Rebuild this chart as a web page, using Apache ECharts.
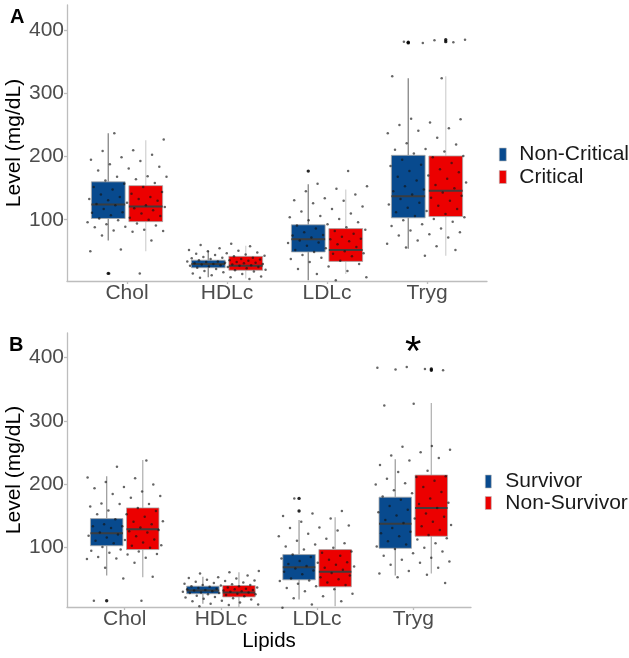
<!DOCTYPE html>
<html><head><meta charset="utf-8">
<script src="https://cdn.jsdelivr.net/npm/echarts@6/dist/echarts.min.js"></script>
<style>html,body{margin:0;padding:0;background:#fff}#c{width:629px;height:658px}</style>
</head><body><div id="c"></div>
<script>
// ---------- DATA ----------
const categories = ['Chol', 'HDLc', 'LDLc', 'Tryg'];
const yTickValues = [100, 200, 300, 400];
const groupsA = ['Non-Critical', 'Critical'];
const groupsB = ['Survivor', 'Non-Survivor'];
// box stats per category: [lower whisker, Q1, median, Q3, upper whisker]
const boxNonCritical = [[67, 102, 124, 160, 237], [9, 24, 30, 36, 51], [4, 49, 69, 92, 156], [54, 103, 137, 202, 324]];
const boxCritical    = [[50, 97, 121, 154, 226], [7, 20, 27, 42, 59], [14, 34, 52, 86, 148], [43, 105, 146, 201, 327]];
const boxSurvivor    = [[55, 102, 122, 145, 212], [10, 26, 31, 38, 53], [17, 48, 68, 88, 143], [55, 98, 137, 179, 239]];
const boxNonSurvivor = [[52, 96, 128, 162, 238], [5, 21, 28, 39, 60], [6, 37, 61, 96, 147], [58, 117, 162, 214, 328]];
// outliers: [category, value]
const outNonCritical = [['Chol', 15], ['LDLc', 177], ['Tryg', 380], ['Tryg', 381]];
const outCritical    = [['Tryg', 382], ['Tryg', 385]];
const outSurvivor    = [['Chol', 15], ['LDLc', 177], ['LDLc', 157]];
const outNonSurvivor = [['Tryg', 380], ['Tryg', 382]];
// individual measurements (jittered points), same patients in both panels
const cholPoints = [237,227,210,209,203,199,195,193,188,184,181,178,169,168,168,164,162,158,157,152,152,148,144,141,140,136,136,133,133,131,130,127,125,123,123,120,118,117,115,112,111,110,107,106,103,102,100,99,96,94,93,91,89,88,84,83,82,81,75,67,53,50,15,15];
const hdlPoints = [62,60,58,55,52,51,50,48,47,46,45,44,43,42,41,40,40,39,38,38,37,36,36,35,34,34,33,33,32,32,31,31,30,30,29,29,28,28,27,27,26,25,25,24,23,22,21,20,19,18,17,15,14,12,10,9,8,6];
const ldlPoints = [177,157,153,149,145,140,134,131,130,126,121,117,113,110,106,104,101,99,96,93,91,88,86,84,82,80,78,76,75,73,72,70,69,67,66,64,63,61,59,57,55,52,50,49,47,46,44,42,40,38,35,33,30,26,22,19,14,9,4];
const trygPoints = [385,384,382,381,380,327,324,260,259,254,250,245,241,237,230,221,219,212,211,208,205,201,199,195,190,187,185,180,177,175,170,168,165,162,159,155,153,150,148,145,143,140,138,135,133,130,127,124,122,119,117,114,112,109,106,104,101,99,97,93,90,86,83,80,77,75,72,67,62,58,56,52,43];
const significance = [{ category: 'Tryg', label: '*' }];

// ---------- STYLE / BUILD ----------
const BLUE = '#084a8e', RED = '#ec0000';
const DODGE = 0.1875, BOXW = 0.3375, JIT = 0.4;
const FONT = 'Liberation Sans, Arial';
const pointSets = [cholPoints, hdlPoints, ldlPoints, trygPoints];
const catIdx = c => categories.indexOf(c) + 1;

function boxData(stats) { return stats.map((s, i) => [i + 1].concat(s)); }
function outData(list) { return list.map(o => [catIdx(o[0]), o[1]]); }
function pointData() {
  const d = [];
  pointSets.forEach((arr, ci) => arr.forEach((v, k) => d.push([ci + 1, v, k])));
  return d;
}

function boxRender(dodge, whisker) {
  return function (params, api) {
    const x = api.value(0) + dodge;
    const w = api.size([BOXW, 0])[0];
    const lo = api.coord([x, api.value(1)]), q1 = api.coord([x, api.value(2)]),
          md = api.coord([x, api.value(3)]), q3 = api.coord([x, api.value(4)]),
          hi = api.coord([x, api.value(5)]);
    const fill = api.visual('color');
    return { type: 'group', children: [
      { type: 'line', shape: { x1: lo[0], y1: lo[1], x2: q1[0], y2: q1[1] }, style: { stroke: whisker, lineWidth: 1.3 } },
      { type: 'line', shape: { x1: q3[0], y1: q3[1], x2: hi[0], y2: hi[1] }, style: { stroke: whisker, lineWidth: 1.3 } },
      { type: 'rect', shape: { x: q3[0] - w / 2, y: q3[1], width: w, height: q1[1] - q3[1] }, style: { fill: fill, stroke: '#a8a8a8', lineWidth: 0.8 } },
      { type: 'line', shape: { x1: md[0] - w / 2, y1: md[1], x2: md[0] + w / 2, y2: md[1] }, style: { stroke: 'rgba(60,60,60,0.95)', lineWidth: 2 } }
    ] };
  };
}
function outRender(dodge) {
  return function (params, api) {
    const p = api.coord([api.value(0) + dodge, api.value(1)]);
    return { type: 'circle', shape: { cx: p[0], cy: p[1], r: 1.7 }, style: { fill: 'rgba(0,0,0,0.85)' } };
  };
}
function pointRender(seed) {
  return function (params, api) {
    const c = api.value(0), k = api.value(2);
    const f = ((k * 0.6180339887 + c * 0.2113 + seed) % 1);
    const p = api.coord([c + (f * 2 - 1) * JIT, api.value(1)]);
    return { type: 'circle', shape: { cx: p[0], cy: p[1], r: 1.25 }, style: { fill: 'rgba(20,20,20,0.65)' } };
  };
}
function sigRender(params, api) {
  const p = api.coord([api.value(0), 0]);
  const top = params.coordSys.y;
  return { type: 'text', x: p[0], y: top + 20, style: { text: significance[params.dataIndex].label, fontSize: 42, fill: '#000', align: 'center', verticalAlign: 'middle', fontFamily: FONT } };
}

const axisLineStyle = { color: '#bdbdbd', width: 1.3 };
function xAxis(gi, showName) {
  return {
    gridIndex: gi, type: 'value', min: 0.4, max: 4.6,
    axisLine: { show: true, lineStyle: axisLineStyle },
    axisTick: { show: true, length: 3, lineStyle: axisLineStyle, customValues: [1, 2, 3, 4] },
    axisLabel: { customValues: [1, 2, 3, 4], formatter: v => categories[Math.round(v) - 1], color: '#4d4d4d', fontSize: 21, margin: 2, fontFamily: FONT },
    splitLine: { show: false },
    name: showName ? 'Lipids' : '', nameLocation: 'middle', nameGap: 24, nameMoveOverlap: false,
    nameTextStyle: { color: '#000', fontSize: 20.5, fontFamily: FONT }
  };
}
function yAxis(gi, min, max) {
  return {
    gridIndex: gi, type: 'value', min: min, max: max,
    axisLine: { show: true, lineStyle: axisLineStyle },
    axisTick: { show: true, length: 3, lineStyle: axisLineStyle, customValues: yTickValues },
    axisLabel: { customValues: yTickValues, color: '#4d4d4d', fontSize: 21, margin: 3, fontFamily: FONT },
    splitLine: { show: false },
    name: 'Level (mg/dL)', nameLocation: 'middle', nameGap: 42, nameMoveOverlap: false,
    nameTextStyle: { color: '#000', fontSize: 21, fontFamily: FONT }
  };
}

const ptData = pointData();
function boxSeries(name, gi, stats, dodge, color, whisker) {
  return { type: 'custom', name: name, xAxisIndex: gi, yAxisIndex: gi, itemStyle: { color: color },
    renderItem: boxRender(dodge, whisker), data: boxData(stats), encode: { x: 0, y: [1, 2, 3, 4, 5] }, z: 2 };
}
function outSeries(gi, list, dodge) {
  return { type: 'custom', xAxisIndex: gi, yAxisIndex: gi, renderItem: outRender(dodge), data: outData(list), encode: { x: 0, y: 1 }, z: 4, silent: true };
}

const option = {
  animation: false,
  backgroundColor: '#fff',
  grid: [
    { left: 67, right: 142, top: 5, height: 276, containLabel: false, outerBoundsMode: 'none' },
    { left: 67, right: 158, top: 333, height: 274, containLabel: false, outerBoundsMode: 'none' }
  ],
  xAxis: [xAxis(0, false), xAxis(1, true)],
  yAxis: [yAxis(0, 3, 440), yAxis(1, 5, 439)],
  legend: [
    { data: groupsA, left: 494, top: 139, orient: 'vertical', icon: 'rect', itemWidth: 7, itemHeight: 13, itemGap: 1.5,
      itemStyle: { borderColor: '#bbb', borderWidth: 0.6 },
      textStyle: { color: '#1a1a1a', fontSize: 21, fontFamily: FONT, padding: [0, 0, 0, 8] } },
    { data: groupsB, left: 480, top: 466, orient: 'vertical', icon: 'rect', itemWidth: 6, itemHeight: 13, itemGap: 0.5,
      itemStyle: { borderColor: '#bbb', borderWidth: 0.6 },
      textStyle: { color: '#1a1a1a', fontSize: 21, fontFamily: FONT, padding: [0, 0, 0, 9] } }
  ],
  graphic: [
    { type: 'text', left: 10, top: 7, style: { text: 'A', fontSize: 20, fontWeight: 'bold', fill: '#000', fontFamily: FONT } },
    { type: 'text', left: 9, top: 335, style: { text: 'B', fontSize: 20, fontWeight: 'bold', fill: '#000', fontFamily: FONT } }
  ],
  series: [
    boxSeries(groupsA[0], 0, boxNonCritical, -DODGE, BLUE, '#858585'),
    boxSeries(groupsA[1], 0, boxCritical, DODGE, RED, '#d4d4d4'),
    outSeries(0, outNonCritical, -DODGE),
    outSeries(0, outCritical, DODGE),
    { type: 'custom', xAxisIndex: 0, yAxisIndex: 0, renderItem: pointRender(0.13), data: ptData, encode: { x: 0, y: 1 }, z: 3, silent: true },
    boxSeries(groupsB[0], 1, boxSurvivor, -DODGE, BLUE, '#a0a0a0'),
    boxSeries(groupsB[1], 1, boxNonSurvivor, DODGE, RED, '#b4b4b4'),
    outSeries(1, outSurvivor, -DODGE),
    outSeries(1, outNonSurvivor, DODGE),
    { type: 'custom', xAxisIndex: 1, yAxisIndex: 1, renderItem: pointRender(0.57), data: ptData, encode: { x: 0, y: 1 }, z: 3, silent: true },
    { type: 'custom', xAxisIndex: 1, yAxisIndex: 1, renderItem: sigRender, data: significance.map(s => [catIdx(s.category)]), encode: { x: 0 }, z: 5, silent: true }
  ]
};
const chart = echarts.init(document.getElementById('c'), null, { renderer: 'canvas' });
chart.setOption(option);
</script></body></html>
